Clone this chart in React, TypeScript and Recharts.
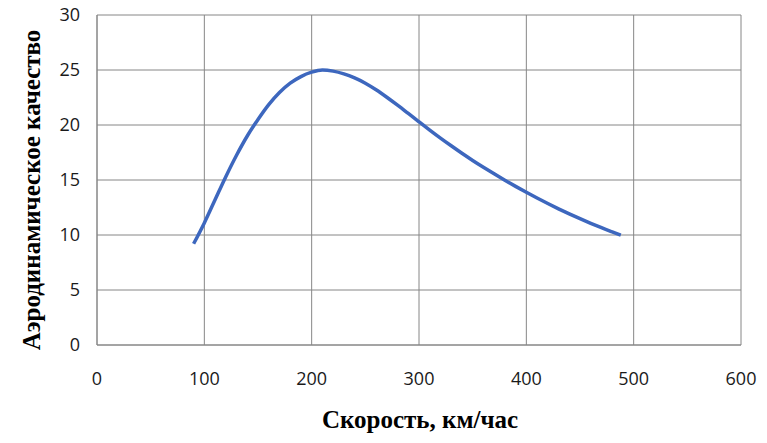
import React from 'react';
import { LineChart, Line, XAxis, YAxis, CartesianGrid, Label } from 'recharts';

// скорость, км/час
const speeds = [
    90, 100, 110, 120, 130, 140, 150, 160, 170, 180, 190, 200, 210, 220, 230, 240, 250, 260, 270, 280, 290,
    300, 310, 320, 330, 340, 350, 360, 370, 380, 390, 400, 410, 420, 430, 440, 450, 460, 470, 480, 488,
];
// аэродинамическое качество
const quality = [
    9.2, 11.1, 13.2, 15.3, 17.25, 19.0, 20.5, 21.85, 22.95, 23.8, 24.4, 24.8, 25.0, 24.9, 24.65, 24.28, 23.8, 23.2, 22.52, 21.8, 21.05,
    20.29, 19.54, 18.81, 18.11, 17.43, 16.78, 16.16, 15.56, 14.98, 14.42, 13.88, 13.36, 12.86, 12.38, 11.92, 11.48, 11.06, 10.66, 10.28, 9.98,
];

const xTicks = [0, 100, 200, 300, 400, 500, 600];
const yTicks = [0, 5, 10, 15, 20, 25, 30];

const xTitle = 'Скорость, км/час';
const yTitle = 'Аэродинамическое качество';

const data = speeds.map((v, i) => ({ v, k: quality[i] }));

const GRID = '#868686';
const tickStyle = { fontFamily: '"Open Sans", sans-serif', fontSize: 18, fill: '#1a1a1a' };
const titleFont = '"Liberation Serif", "Times New Roman", serif';

const YTitle = ({ viewBox }: any) => {
    const cx = 31;
    const cy = viewBox.y + viewBox.height / 2 + 10;
    return (
        <text
            x={cx}
            y={cy}
            transform={`rotate(-90, ${cx}, ${cy})`}
            textAnchor="middle"
            dominantBaseline="central"
            style={{ fontFamily: titleFont, fontWeight: 'bold', fontSize: 25, fill: '#000' }}
        >
            {yTitle}
        </text>
    );
};

const XTitle = ({ viewBox }: any) => (
    <text
        x={viewBox.x + viewBox.width / 2 + 1}
        y={viewBox.y + 83}
        textAnchor="middle"
        style={{ fontFamily: titleFont, fontWeight: 'bold', fontSize: 25, fill: '#000' }}
    >
        {xTitle}
    </text>
);

const App: React.FC = () => {
    return (
        <div style={{ position: 'absolute', left: 0, top: 0, width: 767, height: 443, background: 'white' }}>
            <LineChart width={767} height={443} data={data} margin={{ top: 15, right: 26, bottom: 58, left: 0 }}>
                <CartesianGrid stroke={GRID} strokeWidth={1} />
                <XAxis
                    dataKey="v"
                    type="number"
                    domain={[0, 600]}
                    ticks={xTicks}
                    height={40}
                    axisLine={{ stroke: GRID }}
                    tickLine={false}
                    tickSize={0}
                    tickMargin={27}
                    tick={tickStyle}
                >
                    <Label content={<XTitle />} />
                </XAxis>
                <YAxis
                    type="number"
                    domain={[0, 30]}
                    ticks={yTicks}
                    width={97}
                    axisLine={{ stroke: GRID }}
                    tickLine={false}
                    tickSize={0}
                    tickMargin={17}
                    tick={tickStyle}
                >
                    <Label content={<YTitle />} />
                </YAxis>
                <Line
                    dataKey="k"
                    type="monotone"
                    stroke="#3d67be"
                    strokeWidth={3.5}
                    dot={false}
                    isAnimationActive={false}
                />
            </LineChart>
        </div>
    );
};

export default App;
